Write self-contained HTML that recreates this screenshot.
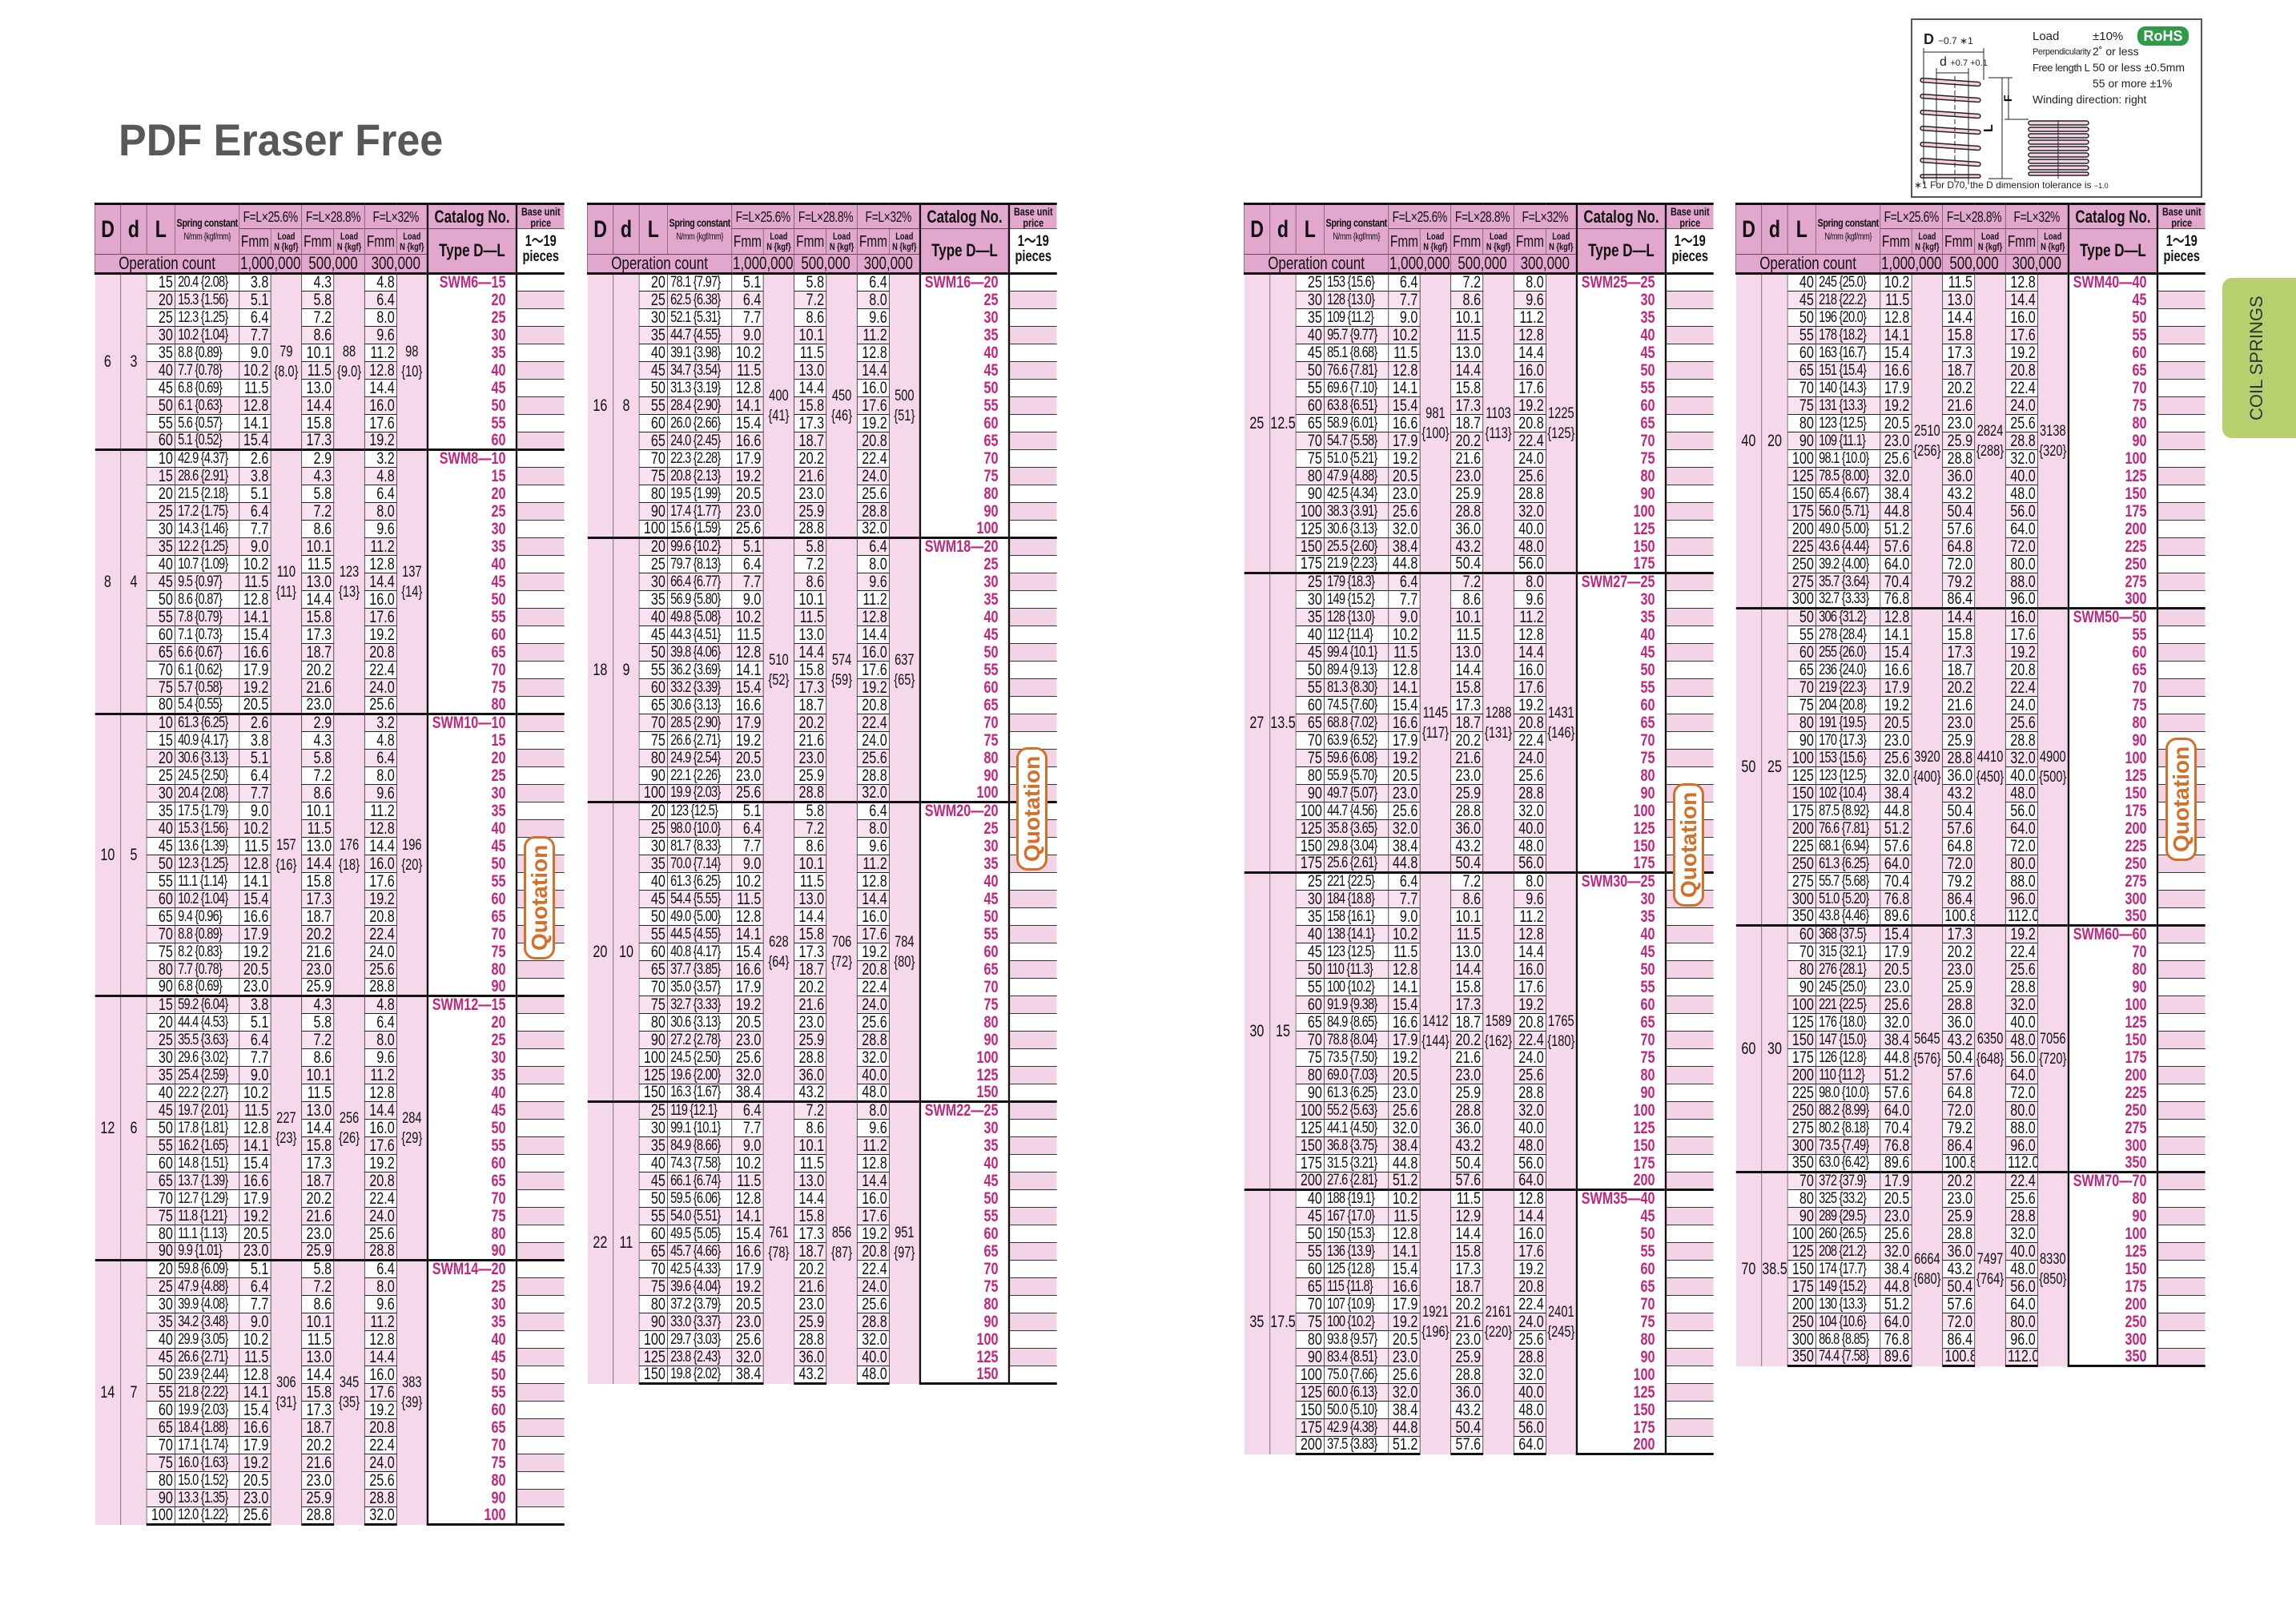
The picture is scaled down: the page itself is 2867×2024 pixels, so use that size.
<!DOCTYPE html>
<html><head><meta charset="utf-8">
<style>
body{margin:0;background:#fff}
#pg{position:relative;width:2867px;height:2024px;overflow:hidden;background:#fff;font-family:"Liberation Sans",sans-serif}
.title{position:absolute;left:148px;top:142px;font-size:56px;font-weight:bold;color:#5a5758;transform:scaleX(.93);transform-origin:0 0;white-space:nowrap}
.t{position:absolute;top:253px;width:760px;transform:scaleX(.771);transform-origin:0 0;border-collapse:collapse;table-layout:fixed;color:#111}
.t td,.t th{padding:0 3px;border:1px solid #222;white-space:nowrap;overflow:hidden}
.t td{text-align:right;font-size:21px;line-height:20px;background:#fff}
.t tbody tr{height:22px}
.t th{background:#e2a7cd;font-weight:bold;text-align:center;border-color:#6a4a5e;line-height:1;padding:0}
.t thead tr:first-child th{border-top:3px solid #111}
.t tr.h1{height:31px}.t tr.h2{height:32px}.t tr.h3{height:23px}
.t th.big{font-size:30px}
.t th.sc{font-size:14px;line-height:16px;letter-spacing:-.5px}
.t th.sc small{font-size:12px;font-weight:normal}
.t th.f{font-size:18px;font-weight:normal;letter-spacing:-.5px}
.t th.fm{font-size:20px;font-weight:normal}
.t th.ln{font-size:12px;line-height:13px}
.t th.cat{font-size:22px;border-left:3px solid #111;border-right:3px solid #111}
.t th.bp{font-size:14px;line-height:14px;border-left:3px solid #111;border-right:none}
.t th.pc{background:#fff;font-size:19px;line-height:19px;border-left:3px solid #111;border-right:none;border-bottom:none;vertical-align:top;padding-top:6px}
.t th.op{font-size:22px;font-weight:normal}
.t td.g{background:#f5d8ea;text-align:center;font-size:21px;padding:0;border-top:none;border-bottom:none;border-left:none;border-right:1px solid #555}
.t td.ld{background:#f5d8ea;text-align:center;font-size:19px;line-height:25px;padding:0;border-top:none;border-bottom:none}
.t td.c{border-left:3px solid #111;border-right:3px solid #111;border-top:none;border-bottom:none;color:#c0267e;font-weight:bold;padding-right:16px}
.t td.p{border-left:3px solid #111;border-right:none;border-top:1px solid #333;border-bottom:1px solid #333}
.t tbody tr:nth-child(even) td.p{background:#f3d3e6}
.t tbody tr:nth-child(even) td{background:#f8e2ef}
.t tbody tr:nth-child(even) td.c{background:#fff}
.t tbody tr:nth-child(even) td.g,.t tbody tr:nth-child(even) td.ld{background:#f5d8ea}
.t tr.s td{border-top:3px solid #111}
.t tr:not(.s) td:nth-child(2),.t tr.s td:nth-child(4){font-size:19px;letter-spacing:-1px;text-align:left;padding-left:4px}
.t tbody tr:last-child td{border-bottom:3px solid #111}
.q{position:absolute;width:33px;height:148px;border:3px solid #d2702a;border-radius:14px;background:#fff;color:#d2702a;font-weight:bold;font-size:28px;writing-mode:vertical-rl;transform:rotate(180deg);text-align:center;line-height:33px;font-family:"Liberation Sans",sans-serif}
.spec{position:absolute;left:2386px;top:23px;width:360px;height:220px;border:2px solid #555;background:#fff}
.spec .tx{position:absolute;font-size:15px;color:#222;white-space:nowrap}
.rohs{position:absolute;left:281px;top:8px;width:64px;height:24px;border-radius:10px;background:#2f9b48;color:#fff;font-weight:bold;font-size:18px;text-align:center;line-height:24px}
.tab{position:absolute;left:2775px;top:347px;width:92px;height:200px;background:#b6d06f;border-radius:12px 0 0 12px}
.tab span{position:absolute;left:30px;top:0;height:200px;width:30px;writing-mode:vertical-rl;transform:rotate(180deg);font-size:22px;color:#333;text-align:center;white-space:nowrap}
</style></head><body><div id="pg">
<div class="title">PDF Eraser Free</div>

<div class="spec">
<svg width="360" height="220" style="position:absolute;left:0;top:0">
<g stroke="#222" stroke-width="1.5" fill="#f5d0e4">
<rect x="10" y="75" width="75" height="5" rx="2.5" transform="rotate(4 47 77)"/>
<rect x="10" y="95" width="75" height="5" rx="2.5" transform="rotate(4 47 97)"/>
<rect x="10" y="115" width="75" height="5" rx="2.5" transform="rotate(4 47 117)"/>
<rect x="10" y="135" width="75" height="5" rx="2.5" transform="rotate(4 47 137)"/>
<rect x="10" y="155" width="75" height="5" rx="2.5" transform="rotate(4 47 157)"/>
<rect x="10" y="175" width="75" height="5" rx="2.5" transform="rotate(4 47 177)"/>
<rect x="10" y="193" width="75" height="4" rx="2"/>
<rect x="145" y="126" width="75" height="5" rx="2.5"/>
<rect x="145" y="134" width="75" height="5" rx="2.5"/>
<rect x="145" y="142" width="75" height="5" rx="2.5"/>
<rect x="145" y="150" width="75" height="5" rx="2.5"/>
<rect x="145" y="158" width="75" height="5" rx="2.5"/>
<rect x="145" y="166" width="75" height="5" rx="2.5"/>
<rect x="145" y="174" width="75" height="5" rx="2.5"/>
<rect x="145" y="182" width="75" height="5" rx="2.5"/>
<rect x="145" y="190" width="75" height="4" rx="2"/>
</g>
<g stroke="#222" stroke-width="1" fill="none">
<line x1="14" y1="35" x2="14" y2="205"/><line x1="89" y1="35" x2="89" y2="75"/>
<line x1="14" y1="40" x2="89" y2="40"/>
<line x1="30" y1="60" x2="30" y2="205"/><line x1="70" y1="60" x2="70" y2="205"/>
<line x1="30" y1="66" x2="70" y2="66"/>
<line x1="95" y1="72" x2="125" y2="72"/><line x1="95" y1="198" x2="125" y2="198"/>
<line x1="112" y1="72" x2="112" y2="198"/>
<line x1="120" y1="72" x2="120" y2="124"/><line x1="115" y1="124" x2="145" y2="124"/>
<line x1="53" y1="70" x2="53" y2="205" stroke-dasharray="6 3"/>
<line x1="182" y1="125" x2="182" y2="198"/>
</g>
<text x="100" y="140" font-size="16" font-weight="bold" transform="rotate(-90 100 140)" font-family="Liberation Sans">L</text>
<text x="124" y="102" font-size="14" font-weight="bold" transform="rotate(-90 124 102)" font-family="Liberation Sans">F</text>
</svg>
<div class="tx" style="left:14px;top:14px;font-weight:bold;font-size:18px">D <span style="font-size:12px;font-weight:normal">−0.7 ∗1</span></div>
<div class="tx" style="left:34px;top:44px;font-size:16px">d <span style="font-size:11px">+0.7 +0.1</span></div>
<div class="tx" style="left:150px;top:12px">Load</div>
<div class="tx" style="left:225px;top:12px">±10%</div>
<div class="tx" style="left:150px;top:34px;font-size:11px;letter-spacing:-.4px">Perpendicularity</div>
<div class="tx" style="left:225px;top:31px;font-size:14px">2˚ or less</div>
<div class="tx" style="left:150px;top:52px;font-size:13px;letter-spacing:-.4px">Free length L</div>
<div class="tx" style="left:225px;top:51px;font-size:14px">50 or less ±0.5mm</div>
<div class="tx" style="left:225px;top:71px;font-size:14px">55 or more ±1%</div>
<div class="tx" style="left:150px;top:91px;font-size:14px">Winding direction: right</div>
<div class="rohs">RoHS</div>
<div class="tx" style="left:2px;top:199px;font-size:12px">∗1 For D70, the D dimension tolerance is <span style="font-size:9px">−1.0</span></div>
</div>

<div class="tab"><span>COIL SPRINGS</span></div>

<!-- TABLE 1 -->
<table class="t" style="left:118px">
<colgroup><col style="width:42px"><col style="width:42px"><col style="width:46px"><col style="width:104px"><col style="width:51px"><col style="width:50px"><col style="width:52px"><col style="width:50px"><col style="width:52px"><col style="width:50px"><col style="width:144px"><col style="width:77px"></colgroup>
<thead>
<tr class="h1"><th rowspan="2" class="big">D</th><th rowspan="2" class="big">d</th><th rowspan="2" class="big">L</th><th rowspan="2" class="sc">Spring constant<br><small>N/mm {kgf/mm}</small></th><th colspan="2" class="f">F=L×25.6%</th><th colspan="2" class="f">F=L×28.8%</th><th colspan="2" class="f">F=L×32%</th><th class="cat">Catalog No.</th><th class="bp">Base unit<br>price</th></tr>
<tr class="h2"><th class="fm">Fmm</th><th class="ln">Load<br>N {kgf}</th><th class="fm">Fmm</th><th class="ln">Load<br>N {kgf}</th><th class="fm">Fmm</th><th class="ln">Load<br>N {kgf}</th><th rowspan="2" class="cat">Type D—L</th><th rowspan="2" class="pc">1～19<br>pieces</th></tr>
<tr class="h3"><th colspan="4" class="op">Operation count</th><th colspan="2" class="op">1,000,000</th><th colspan="2" class="op">500,000</th><th colspan="2" class="op">300,000</th></tr>
</thead>
<tbody>
<tr class="s"><td class="g" rowspan="10">6<td class="g" rowspan="10">3<td>15<td>20.4 {2.08}<td>3.8<td class="ld" rowspan="10">79<br>{8.0}<td>4.3<td class="ld" rowspan="10">88<br>{9.0}<td>4.8<td class="ld" rowspan="10">98<br>{10}<td class="c">SWM6—15<td class="p">
<tr><td>20<td>15.3 {1.56}<td>5.1<td>5.8<td>6.4<td class="c">20<td class="p">
<tr><td>25<td>12.3 {1.25}<td>6.4<td>7.2<td>8.0<td class="c">25<td class="p">
<tr><td>30<td>10.2 {1.04}<td>7.7<td>8.6<td>9.6<td class="c">30<td class="p">
<tr><td>35<td>8.8 {0.89}<td>9.0<td>10.1<td>11.2<td class="c">35<td class="p">
<tr><td>40<td>7.7 {0.78}<td>10.2<td>11.5<td>12.8<td class="c">40<td class="p">
<tr><td>45<td>6.8 {0.69}<td>11.5<td>13.0<td>14.4<td class="c">45<td class="p">
<tr><td>50<td>6.1 {0.63}<td>12.8<td>14.4<td>16.0<td class="c">50<td class="p">
<tr><td>55<td>5.6 {0.57}<td>14.1<td>15.8<td>17.6<td class="c">55<td class="p">
<tr><td>60<td>5.1 {0.52}<td>15.4<td>17.3<td>19.2<td class="c">60<td class="p">
<tr class="s"><td class="g" rowspan="15">8<td class="g" rowspan="15">4<td>10<td>42.9 {4.37}<td>2.6<td class="ld" rowspan="15">110<br>{11}<td>2.9<td class="ld" rowspan="15">123<br>{13}<td>3.2<td class="ld" rowspan="15">137<br>{14}<td class="c">SWM8—10<td class="p">
<tr><td>15<td>28.6 {2.91}<td>3.8<td>4.3<td>4.8<td class="c">15<td class="p">
<tr><td>20<td>21.5 {2.18}<td>5.1<td>5.8<td>6.4<td class="c">20<td class="p">
<tr><td>25<td>17.2 {1.75}<td>6.4<td>7.2<td>8.0<td class="c">25<td class="p">
<tr><td>30<td>14.3 {1.46}<td>7.7<td>8.6<td>9.6<td class="c">30<td class="p">
<tr><td>35<td>12.2 {1.25}<td>9.0<td>10.1<td>11.2<td class="c">35<td class="p">
<tr><td>40<td>10.7 {1.09}<td>10.2<td>11.5<td>12.8<td class="c">40<td class="p">
<tr><td>45<td>9.5 {0.97}<td>11.5<td>13.0<td>14.4<td class="c">45<td class="p">
<tr><td>50<td>8.6 {0.87}<td>12.8<td>14.4<td>16.0<td class="c">50<td class="p">
<tr><td>55<td>7.8 {0.79}<td>14.1<td>15.8<td>17.6<td class="c">55<td class="p">
<tr><td>60<td>7.1 {0.73}<td>15.4<td>17.3<td>19.2<td class="c">60<td class="p">
<tr><td>65<td>6.6 {0.67}<td>16.6<td>18.7<td>20.8<td class="c">65<td class="p">
<tr><td>70<td>6.1 {0.62}<td>17.9<td>20.2<td>22.4<td class="c">70<td class="p">
<tr><td>75<td>5.7 {0.58}<td>19.2<td>21.6<td>24.0<td class="c">75<td class="p">
<tr><td>80<td>5.4 {0.55}<td>20.5<td>23.0<td>25.6<td class="c">80<td class="p">
<tr class="s"><td class="g" rowspan="16">10<td class="g" rowspan="16">5<td>10<td>61.3 {6.25}<td>2.6<td class="ld" rowspan="16">157<br>{16}<td>2.9<td class="ld" rowspan="16">176<br>{18}<td>3.2<td class="ld" rowspan="16">196<br>{20}<td class="c">SWM10—10<td class="p">
<tr><td>15<td>40.9 {4.17}<td>3.8<td>4.3<td>4.8<td class="c">15<td class="p">
<tr><td>20<td>30.6 {3.13}<td>5.1<td>5.8<td>6.4<td class="c">20<td class="p">
<tr><td>25<td>24.5 {2.50}<td>6.4<td>7.2<td>8.0<td class="c">25<td class="p">
<tr><td>30<td>20.4 {2.08}<td>7.7<td>8.6<td>9.6<td class="c">30<td class="p">
<tr><td>35<td>17.5 {1.79}<td>9.0<td>10.1<td>11.2<td class="c">35<td class="p">
<tr><td>40<td>15.3 {1.56}<td>10.2<td>11.5<td>12.8<td class="c">40<td class="p">
<tr><td>45<td>13.6 {1.39}<td>11.5<td>13.0<td>14.4<td class="c">45<td class="p">
<tr><td>50<td>12.3 {1.25}<td>12.8<td>14.4<td>16.0<td class="c">50<td class="p">
<tr><td>55<td>11.1 {1.14}<td>14.1<td>15.8<td>17.6<td class="c">55<td class="p">
<tr><td>60<td>10.2 {1.04}<td>15.4<td>17.3<td>19.2<td class="c">60<td class="p">
<tr><td>65<td>9.4 {0.96}<td>16.6<td>18.7<td>20.8<td class="c">65<td class="p">
<tr><td>70<td>8.8 {0.89}<td>17.9<td>20.2<td>22.4<td class="c">70<td class="p">
<tr><td>75<td>8.2 {0.83}<td>19.2<td>21.6<td>24.0<td class="c">75<td class="p">
<tr><td>80<td>7.7 {0.78}<td>20.5<td>23.0<td>25.6<td class="c">80<td class="p">
<tr><td>90<td>6.8 {0.69}<td>23.0<td>25.9<td>28.8<td class="c">90<td class="p">
<tr class="s"><td class="g" rowspan="15">12<td class="g" rowspan="15">6<td>15<td>59.2 {6.04}<td>3.8<td class="ld" rowspan="15">227<br>{23}<td>4.3<td class="ld" rowspan="15">256<br>{26}<td>4.8<td class="ld" rowspan="15">284<br>{29}<td class="c">SWM12—15<td class="p">
<tr><td>20<td>44.4 {4.53}<td>5.1<td>5.8<td>6.4<td class="c">20<td class="p">
<tr><td>25<td>35.5 {3.63}<td>6.4<td>7.2<td>8.0<td class="c">25<td class="p">
<tr><td>30<td>29.6 {3.02}<td>7.7<td>8.6<td>9.6<td class="c">30<td class="p">
<tr><td>35<td>25.4 {2.59}<td>9.0<td>10.1<td>11.2<td class="c">35<td class="p">
<tr><td>40<td>22.2 {2.27}<td>10.2<td>11.5<td>12.8<td class="c">40<td class="p">
<tr><td>45<td>19.7 {2.01}<td>11.5<td>13.0<td>14.4<td class="c">45<td class="p">
<tr><td>50<td>17.8 {1.81}<td>12.8<td>14.4<td>16.0<td class="c">50<td class="p">
<tr><td>55<td>16.2 {1.65}<td>14.1<td>15.8<td>17.6<td class="c">55<td class="p">
<tr><td>60<td>14.8 {1.51}<td>15.4<td>17.3<td>19.2<td class="c">60<td class="p">
<tr><td>65<td>13.7 {1.39}<td>16.6<td>18.7<td>20.8<td class="c">65<td class="p">
<tr><td>70<td>12.7 {1.29}<td>17.9<td>20.2<td>22.4<td class="c">70<td class="p">
<tr><td>75<td>11.8 {1.21}<td>19.2<td>21.6<td>24.0<td class="c">75<td class="p">
<tr><td>80<td>11.1 {1.13}<td>20.5<td>23.0<td>25.6<td class="c">80<td class="p">
<tr><td>90<td>9.9 {1.01}<td>23.0<td>25.9<td>28.8<td class="c">90<td class="p">
<tr class="s"><td class="g" rowspan="15">14<td class="g" rowspan="15">7<td>20<td>59.8 {6.09}<td>5.1<td class="ld" rowspan="15">306<br>{31}<td>5.8<td class="ld" rowspan="15">345<br>{35}<td>6.4<td class="ld" rowspan="15">383<br>{39}<td class="c">SWM14—20<td class="p">
<tr><td>25<td>47.9 {4.88}<td>6.4<td>7.2<td>8.0<td class="c">25<td class="p">
<tr><td>30<td>39.9 {4.08}<td>7.7<td>8.6<td>9.6<td class="c">30<td class="p">
<tr><td>35<td>34.2 {3.48}<td>9.0<td>10.1<td>11.2<td class="c">35<td class="p">
<tr><td>40<td>29.9 {3.05}<td>10.2<td>11.5<td>12.8<td class="c">40<td class="p">
<tr><td>45<td>26.6 {2.71}<td>11.5<td>13.0<td>14.4<td class="c">45<td class="p">
<tr><td>50<td>23.9 {2.44}<td>12.8<td>14.4<td>16.0<td class="c">50<td class="p">
<tr><td>55<td>21.8 {2.22}<td>14.1<td>15.8<td>17.6<td class="c">55<td class="p">
<tr><td>60<td>19.9 {2.03}<td>15.4<td>17.3<td>19.2<td class="c">60<td class="p">
<tr><td>65<td>18.4 {1.88}<td>16.6<td>18.7<td>20.8<td class="c">65<td class="p">
<tr><td>70<td>17.1 {1.74}<td>17.9<td>20.2<td>22.4<td class="c">70<td class="p">
<tr><td>75<td>16.0 {1.63}<td>19.2<td>21.6<td>24.0<td class="c">75<td class="p">
<tr><td>80<td>15.0 {1.52}<td>20.5<td>23.0<td>25.6<td class="c">80<td class="p">
<tr><td>90<td>13.3 {1.35}<td>23.0<td>25.9<td>28.8<td class="c">90<td class="p">
<tr><td>100<td>12.0 {1.22}<td>25.6<td>28.8<td>32.0<td class="c">100<td class="p">
</tbody></table>

<!-- TABLE 2 -->
<table class="t" style="left:733px">
<colgroup><col style="width:42px"><col style="width:42px"><col style="width:46px"><col style="width:104px"><col style="width:51px"><col style="width:50px"><col style="width:52px"><col style="width:50px"><col style="width:52px"><col style="width:50px"><col style="width:144px"><col style="width:77px"></colgroup>
<thead>
<tr class="h1"><th rowspan="2" class="big">D</th><th rowspan="2" class="big">d</th><th rowspan="2" class="big">L</th><th rowspan="2" class="sc">Spring constant<br><small>N/mm {kgf/mm}</small></th><th colspan="2" class="f">F=L×25.6%</th><th colspan="2" class="f">F=L×28.8%</th><th colspan="2" class="f">F=L×32%</th><th class="cat">Catalog No.</th><th class="bp">Base unit<br>price</th></tr>
<tr class="h2"><th class="fm">Fmm</th><th class="ln">Load<br>N {kgf}</th><th class="fm">Fmm</th><th class="ln">Load<br>N {kgf}</th><th class="fm">Fmm</th><th class="ln">Load<br>N {kgf}</th><th rowspan="2" class="cat">Type D—L</th><th rowspan="2" class="pc">1～19<br>pieces</th></tr>
<tr class="h3"><th colspan="4" class="op">Operation count</th><th colspan="2" class="op">1,000,000</th><th colspan="2" class="op">500,000</th><th colspan="2" class="op">300,000</th></tr>
</thead>
<tbody>
<tr class="s"><td class="g" rowspan="15">16<td class="g" rowspan="15">8<td>20<td>78.1 {7.97}<td>5.1<td class="ld" rowspan="15">400<br>{41}<td>5.8<td class="ld" rowspan="15">450<br>{46}<td>6.4<td class="ld" rowspan="15">500<br>{51}<td class="c">SWM16—20<td class="p">
<tr><td>25<td>62.5 {6.38}<td>6.4<td>7.2<td>8.0<td class="c">25<td class="p">
<tr><td>30<td>52.1 {5.31}<td>7.7<td>8.6<td>9.6<td class="c">30<td class="p">
<tr><td>35<td>44.7 {4.55}<td>9.0<td>10.1<td>11.2<td class="c">35<td class="p">
<tr><td>40<td>39.1 {3.98}<td>10.2<td>11.5<td>12.8<td class="c">40<td class="p">
<tr><td>45<td>34.7 {3.54}<td>11.5<td>13.0<td>14.4<td class="c">45<td class="p">
<tr><td>50<td>31.3 {3.19}<td>12.8<td>14.4<td>16.0<td class="c">50<td class="p">
<tr><td>55<td>28.4 {2.90}<td>14.1<td>15.8<td>17.6<td class="c">55<td class="p">
<tr><td>60<td>26.0 {2.66}<td>15.4<td>17.3<td>19.2<td class="c">60<td class="p">
<tr><td>65<td>24.0 {2.45}<td>16.6<td>18.7<td>20.8<td class="c">65<td class="p">
<tr><td>70<td>22.3 {2.28}<td>17.9<td>20.2<td>22.4<td class="c">70<td class="p">
<tr><td>75<td>20.8 {2.13}<td>19.2<td>21.6<td>24.0<td class="c">75<td class="p">
<tr><td>80<td>19.5 {1.99}<td>20.5<td>23.0<td>25.6<td class="c">80<td class="p">
<tr><td>90<td>17.4 {1.77}<td>23.0<td>25.9<td>28.8<td class="c">90<td class="p">
<tr><td>100<td>15.6 {1.59}<td>25.6<td>28.8<td>32.0<td class="c">100<td class="p">
<tr class="s"><td class="g" rowspan="15">18<td class="g" rowspan="15">9<td>20<td>99.6 {10.2}<td>5.1<td class="ld" rowspan="15">510<br>{52}<td>5.8<td class="ld" rowspan="15">574<br>{59}<td>6.4<td class="ld" rowspan="15">637<br>{65}<td class="c">SWM18—20<td class="p">
<tr><td>25<td>79.7 {8.13}<td>6.4<td>7.2<td>8.0<td class="c">25<td class="p">
<tr><td>30<td>66.4 {6.77}<td>7.7<td>8.6<td>9.6<td class="c">30<td class="p">
<tr><td>35<td>56.9 {5.80}<td>9.0<td>10.1<td>11.2<td class="c">35<td class="p">
<tr><td>40<td>49.8 {5.08}<td>10.2<td>11.5<td>12.8<td class="c">40<td class="p">
<tr><td>45<td>44.3 {4.51}<td>11.5<td>13.0<td>14.4<td class="c">45<td class="p">
<tr><td>50<td>39.8 {4.06}<td>12.8<td>14.4<td>16.0<td class="c">50<td class="p">
<tr><td>55<td>36.2 {3.69}<td>14.1<td>15.8<td>17.6<td class="c">55<td class="p">
<tr><td>60<td>33.2 {3.39}<td>15.4<td>17.3<td>19.2<td class="c">60<td class="p">
<tr><td>65<td>30.6 {3.13}<td>16.6<td>18.7<td>20.8<td class="c">65<td class="p">
<tr><td>70<td>28.5 {2.90}<td>17.9<td>20.2<td>22.4<td class="c">70<td class="p">
<tr><td>75<td>26.6 {2.71}<td>19.2<td>21.6<td>24.0<td class="c">75<td class="p">
<tr><td>80<td>24.9 {2.54}<td>20.5<td>23.0<td>25.6<td class="c">80<td class="p">
<tr><td>90<td>22.1 {2.26}<td>23.0<td>25.9<td>28.8<td class="c">90<td class="p">
<tr><td>100<td>19.9 {2.03}<td>25.6<td>28.8<td>32.0<td class="c">100<td class="p">
<tr class="s"><td class="g" rowspan="17">20<td class="g" rowspan="17">10<td>20<td>123 {12.5}<td>5.1<td class="ld" rowspan="17">628<br>{64}<td>5.8<td class="ld" rowspan="17">706<br>{72}<td>6.4<td class="ld" rowspan="17">784<br>{80}<td class="c">SWM20—20<td class="p">
<tr><td>25<td>98.0 {10.0}<td>6.4<td>7.2<td>8.0<td class="c">25<td class="p">
<tr><td>30<td>81.7 {8.33}<td>7.7<td>8.6<td>9.6<td class="c">30<td class="p">
<tr><td>35<td>70.0 {7.14}<td>9.0<td>10.1<td>11.2<td class="c">35<td class="p">
<tr><td>40<td>61.3 {6.25}<td>10.2<td>11.5<td>12.8<td class="c">40<td class="p">
<tr><td>45<td>54.4 {5.55}<td>11.5<td>13.0<td>14.4<td class="c">45<td class="p">
<tr><td>50<td>49.0 {5.00}<td>12.8<td>14.4<td>16.0<td class="c">50<td class="p">
<tr><td>55<td>44.5 {4.55}<td>14.1<td>15.8<td>17.6<td class="c">55<td class="p">
<tr><td>60<td>40.8 {4.17}<td>15.4<td>17.3<td>19.2<td class="c">60<td class="p">
<tr><td>65<td>37.7 {3.85}<td>16.6<td>18.7<td>20.8<td class="c">65<td class="p">
<tr><td>70<td>35.0 {3.57}<td>17.9<td>20.2<td>22.4<td class="c">70<td class="p">
<tr><td>75<td>32.7 {3.33}<td>19.2<td>21.6<td>24.0<td class="c">75<td class="p">
<tr><td>80<td>30.6 {3.13}<td>20.5<td>23.0<td>25.6<td class="c">80<td class="p">
<tr><td>90<td>27.2 {2.78}<td>23.0<td>25.9<td>28.8<td class="c">90<td class="p">
<tr><td>100<td>24.5 {2.50}<td>25.6<td>28.8<td>32.0<td class="c">100<td class="p">
<tr><td>125<td>19.6 {2.00}<td>32.0<td>36.0<td>40.0<td class="c">125<td class="p">
<tr><td>150<td>16.3 {1.67}<td>38.4<td>43.2<td>48.0<td class="c">150<td class="p">
<tr class="s"><td class="g" rowspan="16">22<td class="g" rowspan="16">11<td>25<td>119 {12.1}<td>6.4<td class="ld" rowspan="16">761<br>{78}<td>7.2<td class="ld" rowspan="16">856<br>{87}<td>8.0<td class="ld" rowspan="16">951<br>{97}<td class="c">SWM22—25<td class="p">
<tr><td>30<td>99.1 {10.1}<td>7.7<td>8.6<td>9.6<td class="c">30<td class="p">
<tr><td>35<td>84.9 {8.66}<td>9.0<td>10.1<td>11.2<td class="c">35<td class="p">
<tr><td>40<td>74.3 {7.58}<td>10.2<td>11.5<td>12.8<td class="c">40<td class="p">
<tr><td>45<td>66.1 {6.74}<td>11.5<td>13.0<td>14.4<td class="c">45<td class="p">
<tr><td>50<td>59.5 {6.06}<td>12.8<td>14.4<td>16.0<td class="c">50<td class="p">
<tr><td>55<td>54.0 {5.51}<td>14.1<td>15.8<td>17.6<td class="c">55<td class="p">
<tr><td>60<td>49.5 {5.05}<td>15.4<td>17.3<td>19.2<td class="c">60<td class="p">
<tr><td>65<td>45.7 {4.66}<td>16.6<td>18.7<td>20.8<td class="c">65<td class="p">
<tr><td>70<td>42.5 {4.33}<td>17.9<td>20.2<td>22.4<td class="c">70<td class="p">
<tr><td>75<td>39.6 {4.04}<td>19.2<td>21.6<td>24.0<td class="c">75<td class="p">
<tr><td>80<td>37.2 {3.79}<td>20.5<td>23.0<td>25.6<td class="c">80<td class="p">
<tr><td>90<td>33.0 {3.37}<td>23.0<td>25.9<td>28.8<td class="c">90<td class="p">
<tr><td>100<td>29.7 {3.03}<td>25.6<td>28.8<td>32.0<td class="c">100<td class="p">
<tr><td>125<td>23.8 {2.43}<td>32.0<td>36.0<td>40.0<td class="c">125<td class="p">
<tr><td>150<td>19.8 {2.02}<td>38.4<td>43.2<td>48.0<td class="c">150<td class="p">
</tbody></table>

<!-- TABLE 3 -->
<table class="t" style="left:1553px">
<colgroup><col style="width:42px"><col style="width:42px"><col style="width:46px"><col style="width:104px"><col style="width:51px"><col style="width:50px"><col style="width:52px"><col style="width:50px"><col style="width:52px"><col style="width:50px"><col style="width:144px"><col style="width:77px"></colgroup>
<thead>
<tr class="h1"><th rowspan="2" class="big">D</th><th rowspan="2" class="big">d</th><th rowspan="2" class="big">L</th><th rowspan="2" class="sc">Spring constant<br><small>N/mm {kgf/mm}</small></th><th colspan="2" class="f">F=L×25.6%</th><th colspan="2" class="f">F=L×28.8%</th><th colspan="2" class="f">F=L×32%</th><th class="cat">Catalog No.</th><th class="bp">Base unit<br>price</th></tr>
<tr class="h2"><th class="fm">Fmm</th><th class="ln">Load<br>N {kgf}</th><th class="fm">Fmm</th><th class="ln">Load<br>N {kgf}</th><th class="fm">Fmm</th><th class="ln">Load<br>N {kgf}</th><th rowspan="2" class="cat">Type D—L</th><th rowspan="2" class="pc">1～19<br>pieces</th></tr>
<tr class="h3"><th colspan="4" class="op">Operation count</th><th colspan="2" class="op">1,000,000</th><th colspan="2" class="op">500,000</th><th colspan="2" class="op">300,000</th></tr>
</thead>
<tbody>
<tr class="s"><td class="g" rowspan="17">25<td class="g" rowspan="17">12.5<td>25<td>153 {15.6}<td>6.4<td class="ld" rowspan="17">981<br>{100}<td>7.2<td class="ld" rowspan="17">1103<br>{113}<td>8.0<td class="ld" rowspan="17">1225<br>{125}<td class="c">SWM25—25<td class="p">
<tr><td>30<td>128 {13.0}<td>7.7<td>8.6<td>9.6<td class="c">30<td class="p">
<tr><td>35<td>109 {11.2}<td>9.0<td>10.1<td>11.2<td class="c">35<td class="p">
<tr><td>40<td>95.7 {9.77}<td>10.2<td>11.5<td>12.8<td class="c">40<td class="p">
<tr><td>45<td>85.1 {8.68}<td>11.5<td>13.0<td>14.4<td class="c">45<td class="p">
<tr><td>50<td>76.6 {7.81}<td>12.8<td>14.4<td>16.0<td class="c">50<td class="p">
<tr><td>55<td>69.6 {7.10}<td>14.1<td>15.8<td>17.6<td class="c">55<td class="p">
<tr><td>60<td>63.8 {6.51}<td>15.4<td>17.3<td>19.2<td class="c">60<td class="p">
<tr><td>65<td>58.9 {6.01}<td>16.6<td>18.7<td>20.8<td class="c">65<td class="p">
<tr><td>70<td>54.7 {5.58}<td>17.9<td>20.2<td>22.4<td class="c">70<td class="p">
<tr><td>75<td>51.0 {5.21}<td>19.2<td>21.6<td>24.0<td class="c">75<td class="p">
<tr><td>80<td>47.9 {4.88}<td>20.5<td>23.0<td>25.6<td class="c">80<td class="p">
<tr><td>90<td>42.5 {4.34}<td>23.0<td>25.9<td>28.8<td class="c">90<td class="p">
<tr><td>100<td>38.3 {3.91}<td>25.6<td>28.8<td>32.0<td class="c">100<td class="p">
<tr><td>125<td>30.6 {3.13}<td>32.0<td>36.0<td>40.0<td class="c">125<td class="p">
<tr><td>150<td>25.5 {2.60}<td>38.4<td>43.2<td>48.0<td class="c">150<td class="p">
<tr><td>175<td>21.9 {2.23}<td>44.8<td>50.4<td>56.0<td class="c">175<td class="p">
<tr class="s"><td class="g" rowspan="17">27<td class="g" rowspan="17">13.5<td>25<td>179 {18.3}<td>6.4<td class="ld" rowspan="17">1145<br>{117}<td>7.2<td class="ld" rowspan="17">1288<br>{131}<td>8.0<td class="ld" rowspan="17">1431<br>{146}<td class="c">SWM27—25<td class="p">
<tr><td>30<td>149 {15.2}<td>7.7<td>8.6<td>9.6<td class="c">30<td class="p">
<tr><td>35<td>128 {13.0}<td>9.0<td>10.1<td>11.2<td class="c">35<td class="p">
<tr><td>40<td>112 {11.4}<td>10.2<td>11.5<td>12.8<td class="c">40<td class="p">
<tr><td>45<td>99.4 {10.1}<td>11.5<td>13.0<td>14.4<td class="c">45<td class="p">
<tr><td>50<td>89.4 {9.13}<td>12.8<td>14.4<td>16.0<td class="c">50<td class="p">
<tr><td>55<td>81.3 {8.30}<td>14.1<td>15.8<td>17.6<td class="c">55<td class="p">
<tr><td>60<td>74.5 {7.60}<td>15.4<td>17.3<td>19.2<td class="c">60<td class="p">
<tr><td>65<td>68.8 {7.02}<td>16.6<td>18.7<td>20.8<td class="c">65<td class="p">
<tr><td>70<td>63.9 {6.52}<td>17.9<td>20.2<td>22.4<td class="c">70<td class="p">
<tr><td>75<td>59.6 {6.08}<td>19.2<td>21.6<td>24.0<td class="c">75<td class="p">
<tr><td>80<td>55.9 {5.70}<td>20.5<td>23.0<td>25.6<td class="c">80<td class="p">
<tr><td>90<td>49.7 {5.07}<td>23.0<td>25.9<td>28.8<td class="c">90<td class="p">
<tr><td>100<td>44.7 {4.56}<td>25.6<td>28.8<td>32.0<td class="c">100<td class="p">
<tr><td>125<td>35.8 {3.65}<td>32.0<td>36.0<td>40.0<td class="c">125<td class="p">
<tr><td>150<td>29.8 {3.04}<td>38.4<td>43.2<td>48.0<td class="c">150<td class="p">
<tr><td>175<td>25.6 {2.61}<td>44.8<td>50.4<td>56.0<td class="c">175<td class="p">
<tr class="s"><td class="g" rowspan="18">30<td class="g" rowspan="18">15<td>25<td>221 {22.5}<td>6.4<td class="ld" rowspan="18">1412<br>{144}<td>7.2<td class="ld" rowspan="18">1589<br>{162}<td>8.0<td class="ld" rowspan="18">1765<br>{180}<td class="c">SWM30—25<td class="p">
<tr><td>30<td>184 {18.8}<td>7.7<td>8.6<td>9.6<td class="c">30<td class="p">
<tr><td>35<td>158 {16.1}<td>9.0<td>10.1<td>11.2<td class="c">35<td class="p">
<tr><td>40<td>138 {14.1}<td>10.2<td>11.5<td>12.8<td class="c">40<td class="p">
<tr><td>45<td>123 {12.5}<td>11.5<td>13.0<td>14.4<td class="c">45<td class="p">
<tr><td>50<td>110 {11.3}<td>12.8<td>14.4<td>16.0<td class="c">50<td class="p">
<tr><td>55<td>100 {10.2}<td>14.1<td>15.8<td>17.6<td class="c">55<td class="p">
<tr><td>60<td>91.9 {9.38}<td>15.4<td>17.3<td>19.2<td class="c">60<td class="p">
<tr><td>65<td>84.9 {8.65}<td>16.6<td>18.7<td>20.8<td class="c">65<td class="p">
<tr><td>70<td>78.8 {8.04}<td>17.9<td>20.2<td>22.4<td class="c">70<td class="p">
<tr><td>75<td>73.5 {7.50}<td>19.2<td>21.6<td>24.0<td class="c">75<td class="p">
<tr><td>80<td>69.0 {7.03}<td>20.5<td>23.0<td>25.6<td class="c">80<td class="p">
<tr><td>90<td>61.3 {6.25}<td>23.0<td>25.9<td>28.8<td class="c">90<td class="p">
<tr><td>100<td>55.2 {5.63}<td>25.6<td>28.8<td>32.0<td class="c">100<td class="p">
<tr><td>125<td>44.1 {4.50}<td>32.0<td>36.0<td>40.0<td class="c">125<td class="p">
<tr><td>150<td>36.8 {3.75}<td>38.4<td>43.2<td>48.0<td class="c">150<td class="p">
<tr><td>175<td>31.5 {3.21}<td>44.8<td>50.4<td>56.0<td class="c">175<td class="p">
<tr><td>200<td>27.6 {2.81}<td>51.2<td>57.6<td>64.0<td class="c">200<td class="p">
<tr class="s"><td class="g" rowspan="15">35<td class="g" rowspan="15">17.5<td>40<td>188 {19.1}<td>10.2<td class="ld" rowspan="15">1921<br>{196}<td>11.5<td class="ld" rowspan="15">2161<br>{220}<td>12.8<td class="ld" rowspan="15">2401<br>{245}<td class="c">SWM35—40<td class="p">
<tr><td>45<td>167 {17.0}<td>11.5<td>12.9<td>14.4<td class="c">45<td class="p">
<tr><td>50<td>150 {15.3}<td>12.8<td>14.4<td>16.0<td class="c">50<td class="p">
<tr><td>55<td>136 {13.9}<td>14.1<td>15.8<td>17.6<td class="c">55<td class="p">
<tr><td>60<td>125 {12.8}<td>15.4<td>17.3<td>19.2<td class="c">60<td class="p">
<tr><td>65<td>115 {11.8}<td>16.6<td>18.7<td>20.8<td class="c">65<td class="p">
<tr><td>70<td>107 {10.9}<td>17.9<td>20.2<td>22.4<td class="c">70<td class="p">
<tr><td>75<td>100 {10.2}<td>19.2<td>21.6<td>24.0<td class="c">75<td class="p">
<tr><td>80<td>93.8 {9.57}<td>20.5<td>23.0<td>25.6<td class="c">80<td class="p">
<tr><td>90<td>83.4 {8.51}<td>23.0<td>25.9<td>28.8<td class="c">90<td class="p">
<tr><td>100<td>75.0 {7.66}<td>25.6<td>28.8<td>32.0<td class="c">100<td class="p">
<tr><td>125<td>60.0 {6.13}<td>32.0<td>36.0<td>40.0<td class="c">125<td class="p">
<tr><td>150<td>50.0 {5.10}<td>38.4<td>43.2<td>48.0<td class="c">150<td class="p">
<tr><td>175<td>42.9 {4.38}<td>44.8<td>50.4<td>56.0<td class="c">175<td class="p">
<tr><td>200<td>37.5 {3.83}<td>51.2<td>57.6<td>64.0<td class="c">200<td class="p">
</tbody></table>

<!-- TABLE 4 -->
<table class="t" style="left:2167px">
<colgroup><col style="width:42px"><col style="width:42px"><col style="width:46px"><col style="width:104px"><col style="width:51px"><col style="width:50px"><col style="width:52px"><col style="width:50px"><col style="width:52px"><col style="width:50px"><col style="width:144px"><col style="width:77px"></colgroup>
<thead>
<tr class="h1"><th rowspan="2" class="big">D</th><th rowspan="2" class="big">d</th><th rowspan="2" class="big">L</th><th rowspan="2" class="sc">Spring constant<br><small>N/mm {kgf/mm}</small></th><th colspan="2" class="f">F=L×25.6%</th><th colspan="2" class="f">F=L×28.8%</th><th colspan="2" class="f">F=L×32%</th><th class="cat">Catalog No.</th><th class="bp">Base unit<br>price</th></tr>
<tr class="h2"><th class="fm">Fmm</th><th class="ln">Load<br>N {kgf}</th><th class="fm">Fmm</th><th class="ln">Load<br>N {kgf}</th><th class="fm">Fmm</th><th class="ln">Load<br>N {kgf}</th><th rowspan="2" class="cat">Type D—L</th><th rowspan="2" class="pc">1～19<br>pieces</th></tr>
<tr class="h3"><th colspan="4" class="op">Operation count</th><th colspan="2" class="op">1,000,000</th><th colspan="2" class="op">500,000</th><th colspan="2" class="op">300,000</th></tr>
</thead>
<tbody>
<tr class="s"><td class="g" rowspan="19">40<td class="g" rowspan="19">20<td>40<td>245 {25.0}<td>10.2<td class="ld" rowspan="19">2510<br>{256}<td>11.5<td class="ld" rowspan="19">2824<br>{288}<td>12.8<td class="ld" rowspan="19">3138<br>{320}<td class="c">SWM40—40<td class="p">
<tr><td>45<td>218 {22.2}<td>11.5<td>13.0<td>14.4<td class="c">45<td class="p">
<tr><td>50<td>196 {20.0}<td>12.8<td>14.4<td>16.0<td class="c">50<td class="p">
<tr><td>55<td>178 {18.2}<td>14.1<td>15.8<td>17.6<td class="c">55<td class="p">
<tr><td>60<td>163 {16.7}<td>15.4<td>17.3<td>19.2<td class="c">60<td class="p">
<tr><td>65<td>151 {15.4}<td>16.6<td>18.7<td>20.8<td class="c">65<td class="p">
<tr><td>70<td>140 {14.3}<td>17.9<td>20.2<td>22.4<td class="c">70<td class="p">
<tr><td>75<td>131 {13.3}<td>19.2<td>21.6<td>24.0<td class="c">75<td class="p">
<tr><td>80<td>123 {12.5}<td>20.5<td>23.0<td>25.6<td class="c">80<td class="p">
<tr><td>90<td>109 {11.1}<td>23.0<td>25.9<td>28.8<td class="c">90<td class="p">
<tr><td>100<td>98.1 {10.0}<td>25.6<td>28.8<td>32.0<td class="c">100<td class="p">
<tr><td>125<td>78.5 {8.00}<td>32.0<td>36.0<td>40.0<td class="c">125<td class="p">
<tr><td>150<td>65.4 {6.67}<td>38.4<td>43.2<td>48.0<td class="c">150<td class="p">
<tr><td>175<td>56.0 {5.71}<td>44.8<td>50.4<td>56.0<td class="c">175<td class="p">
<tr><td>200<td>49.0 {5.00}<td>51.2<td>57.6<td>64.0<td class="c">200<td class="p">
<tr><td>225<td>43.6 {4.44}<td>57.6<td>64.8<td>72.0<td class="c">225<td class="p">
<tr><td>250<td>39.2 {4.00}<td>64.0<td>72.0<td>80.0<td class="c">250<td class="p">
<tr><td>275<td>35.7 {3.64}<td>70.4<td>79.2<td>88.0<td class="c">275<td class="p">
<tr><td>300<td>32.7 {3.33}<td>76.8<td>86.4<td>96.0<td class="c">300<td class="p">
<tr class="s"><td class="g" rowspan="18">50<td class="g" rowspan="18">25<td>50<td>306 {31.2}<td>12.8<td class="ld" rowspan="18">3920<br>{400}<td>14.4<td class="ld" rowspan="18">4410<br>{450}<td>16.0<td class="ld" rowspan="18">4900<br>{500}<td class="c">SWM50—50<td class="p">
<tr><td>55<td>278 {28.4}<td>14.1<td>15.8<td>17.6<td class="c">55<td class="p">
<tr><td>60<td>255 {26.0}<td>15.4<td>17.3<td>19.2<td class="c">60<td class="p">
<tr><td>65<td>236 {24.0}<td>16.6<td>18.7<td>20.8<td class="c">65<td class="p">
<tr><td>70<td>219 {22.3}<td>17.9<td>20.2<td>22.4<td class="c">70<td class="p">
<tr><td>75<td>204 {20.8}<td>19.2<td>21.6<td>24.0<td class="c">75<td class="p">
<tr><td>80<td>191 {19.5}<td>20.5<td>23.0<td>25.6<td class="c">80<td class="p">
<tr><td>90<td>170 {17.3}<td>23.0<td>25.9<td>28.8<td class="c">90<td class="p">
<tr><td>100<td>153 {15.6}<td>25.6<td>28.8<td>32.0<td class="c">100<td class="p">
<tr><td>125<td>123 {12.5}<td>32.0<td>36.0<td>40.0<td class="c">125<td class="p">
<tr><td>150<td>102 {10.4}<td>38.4<td>43.2<td>48.0<td class="c">150<td class="p">
<tr><td>175<td>87.5 {8.92}<td>44.8<td>50.4<td>56.0<td class="c">175<td class="p">
<tr><td>200<td>76.6 {7.81}<td>51.2<td>57.6<td>64.0<td class="c">200<td class="p">
<tr><td>225<td>68.1 {6.94}<td>57.6<td>64.8<td>72.0<td class="c">225<td class="p">
<tr><td>250<td>61.3 {6.25}<td>64.0<td>72.0<td>80.0<td class="c">250<td class="p">
<tr><td>275<td>55.7 {5.68}<td>70.4<td>79.2<td>88.0<td class="c">275<td class="p">
<tr><td>300<td>51.0 {5.20}<td>76.8<td>86.4<td>96.0<td class="c">300<td class="p">
<tr><td>350<td>43.8 {4.46}<td>89.6<td>100.8<td>112.0<td class="c">350<td class="p">
<tr class="s"><td class="g" rowspan="14">60<td class="g" rowspan="14">30<td>60<td>368 {37.5}<td>15.4<td class="ld" rowspan="14">5645<br>{576}<td>17.3<td class="ld" rowspan="14">6350<br>{648}<td>19.2<td class="ld" rowspan="14">7056<br>{720}<td class="c">SWM60—60<td class="p">
<tr><td>70<td>315 {32.1}<td>17.9<td>20.2<td>22.4<td class="c">70<td class="p">
<tr><td>80<td>276 {28.1}<td>20.5<td>23.0<td>25.6<td class="c">80<td class="p">
<tr><td>90<td>245 {25.0}<td>23.0<td>25.9<td>28.8<td class="c">90<td class="p">
<tr><td>100<td>221 {22.5}<td>25.6<td>28.8<td>32.0<td class="c">100<td class="p">
<tr><td>125<td>176 {18.0}<td>32.0<td>36.0<td>40.0<td class="c">125<td class="p">
<tr><td>150<td>147 {15.0}<td>38.4<td>43.2<td>48.0<td class="c">150<td class="p">
<tr><td>175<td>126 {12.8}<td>44.8<td>50.4<td>56.0<td class="c">175<td class="p">
<tr><td>200<td>110 {11.2}<td>51.2<td>57.6<td>64.0<td class="c">200<td class="p">
<tr><td>225<td>98.0 {10.0}<td>57.6<td>64.8<td>72.0<td class="c">225<td class="p">
<tr><td>250<td>88.2 {8.99}<td>64.0<td>72.0<td>80.0<td class="c">250<td class="p">
<tr><td>275<td>80.2 {8.18}<td>70.4<td>79.2<td>88.0<td class="c">275<td class="p">
<tr><td>300<td>73.5 {7.49}<td>76.8<td>86.4<td>96.0<td class="c">300<td class="p">
<tr><td>350<td>63.0 {6.42}<td>89.6<td>100.8<td>112.0<td class="c">350<td class="p">
<tr class="s"><td class="g" rowspan="11">70<td class="g" rowspan="11">38.5<td>70<td>372 {37.9}<td>17.9<td class="ld" rowspan="11">6664<br>{680}<td>20.2<td class="ld" rowspan="11">7497<br>{764}<td>22.4<td class="ld" rowspan="11">8330<br>{850}<td class="c">SWM70—70<td class="p">
<tr><td>80<td>325 {33.2}<td>20.5<td>23.0<td>25.6<td class="c">80<td class="p">
<tr><td>90<td>289 {29.5}<td>23.0<td>25.9<td>28.8<td class="c">90<td class="p">
<tr><td>100<td>260 {26.5}<td>25.6<td>28.8<td>32.0<td class="c">100<td class="p">
<tr><td>125<td>208 {21.2}<td>32.0<td>36.0<td>40.0<td class="c">125<td class="p">
<tr><td>150<td>174 {17.7}<td>38.4<td>43.2<td>48.0<td class="c">150<td class="p">
<tr><td>175<td>149 {15.2}<td>44.8<td>50.4<td>56.0<td class="c">175<td class="p">
<tr><td>200<td>130 {13.3}<td>51.2<td>57.6<td>64.0<td class="c">200<td class="p">
<tr><td>250<td>104 {10.6}<td>64.0<td>72.0<td>80.0<td class="c">250<td class="p">
<tr><td>300<td>86.8 {8.85}<td>76.8<td>86.4<td>96.0<td class="c">300<td class="p">
<tr><td>350<td>74.4 {7.58}<td>89.6<td>100.8<td>112.0<td class="c">350<td class="p">
</tbody></table>

<div class="q" style="left:654px;top:1044px">Quotation</div>
<div class="q" style="left:1269px;top:933px">Quotation</div>
<div class="q" style="left:2089px;top:978px">Quotation</div>
<div class="q" style="left:2704px;top:921px">Quotation</div>
</div></body></html>
